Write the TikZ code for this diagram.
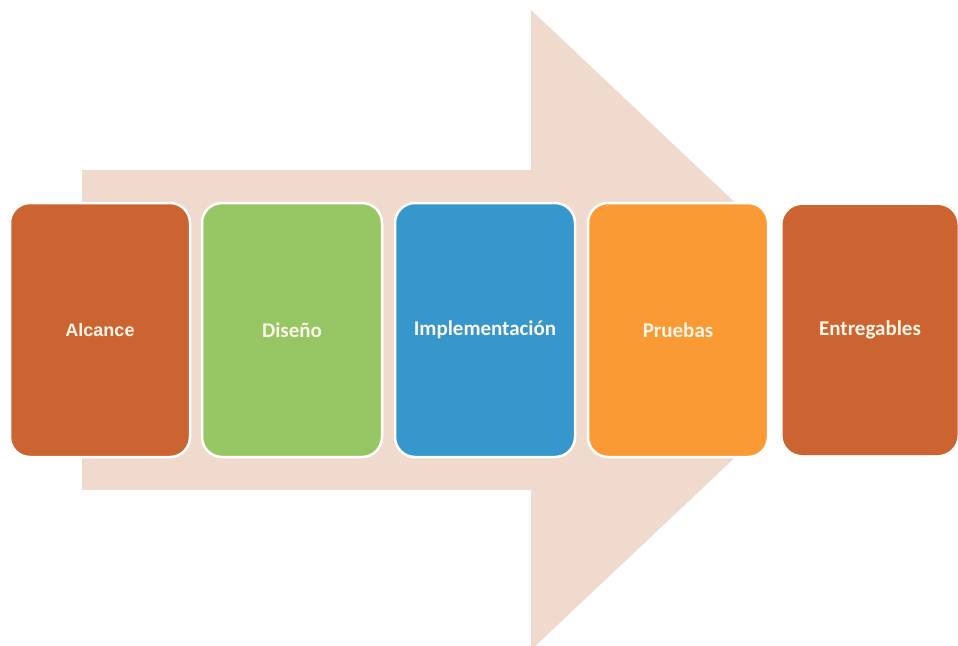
\documentclass[tikz,border=0pt]{standalone}
\usepackage{fontspec}
\setmainfont{Carlito}
\newfontfamily\arialfont{Liberation Sans}
\usepackage{tikz}
\usetikzlibrary{positioning}

\definecolor{arrowpeach}{HTML}{F0DACD}
\definecolor{rust}{HTML}{CB6431}
\definecolor{leaf}{HTML}{97C764}
\definecolor{sky}{HTML}{3597CB}
\definecolor{tangerine}{HTML}{F99A34}
\definecolor{cream}{HTML}{FBF6E6}

\tikzset{
  phase/.style={rectangle, rounded corners=20pt, inner sep=0pt,
    minimum width=180pt, minimum height=254pt, draw=white, line width=2.5pt,
    text=cream, font=\bfseries\fontsize{21}{24}\selectfont},
  lastphase/.style={phase, draw=none, minimum width=175pt, minimum height=250pt,
    preaction={draw=white, line width=28pt}}
}

\begin{document}
\begin{tikzpicture}[x=1pt,y=-1pt]
\useasboundingbox (0,0) rectangle (958,645);
% big background arrow
\fill[arrowpeach] (82,170) -- (531,170) -- (531,10) -- (870,330)
  -- (531,650) -- (531,490) -- (82,490) -- cycle;
% phases
\node[lastphase, fill=rust] (entregables) at (870,330) {Entregables};
\node[phase, fill=rust, font=\arialfont\bfseries\fontsize{18}{21}\selectfont] (alcance) at (100,330) {Alcance};
\node[phase, fill=leaf] (diseno) at (292,330) {Diseño};
\node[phase, fill=sky] (impl) at (485,330) {Implementación};
\node[phase, fill=tangerine] (pruebas) at (678,330) {Pruebas};
\end{tikzpicture}
\end{document}
